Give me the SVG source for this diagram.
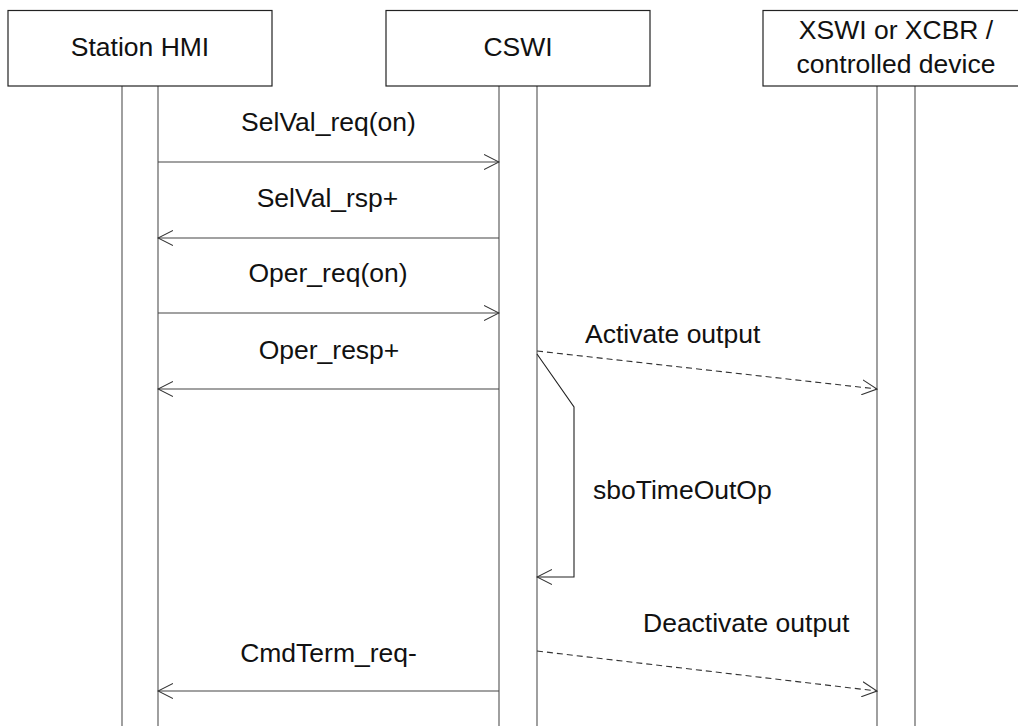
<svg xmlns="http://www.w3.org/2000/svg" width="1018" height="726" viewBox="0 0 1018 726">
<style>
.box{fill:#fff;stroke:#222;stroke-width:1.2}
.life{stroke:#777;stroke-width:1.4;fill:none}
.msg{stroke:#444;stroke-width:1.2;fill:none}
.dash{stroke:#333;stroke-width:1.1;fill:none;stroke-dasharray:6,4}
.self{stroke:#222;stroke-width:1.1;fill:none}
text{font-family:"Liberation Sans",Arial,sans-serif;font-size:26.5px;fill:#111}
.c{text-anchor:middle}
</style>
<defs>
<marker id="open" viewBox="0 0 16 16" refX="15" refY="8" markerWidth="16" markerHeight="16" markerUnits="userSpaceOnUse" orient="auto">
<path d="M0,0.5 L15,8 L0,15.5" fill="none" stroke="#333" stroke-width="1.1"/>
</marker>
</defs>
<rect width="1018" height="726" fill="#fff"/>
<g id="station-hmi">
<line class="life" x1="122" y1="86" x2="122" y2="726"/>
<line class="life" x1="158" y1="86" x2="158" y2="726"/>
<rect class="box" x="8" y="10.5" width="264" height="75.5"/>
<text class="c" x="140" y="56">Station HMI</text>
</g>
<g id="cswi">
<line class="life" x1="499" y1="86" x2="499" y2="726"/>
<line class="life" x1="537" y1="86" x2="537" y2="726"/>
<rect class="box" x="386" y="10.5" width="264" height="75.5"/>
<text class="c" x="518" y="56">CSWI</text>
</g>
<g id="xswi">
<line class="life" x1="877" y1="86" x2="877" y2="726"/>
<line class="life" x1="915" y1="86" x2="915" y2="726"/>
<rect class="box" x="763" y="10.5" width="266" height="75.5"/>
<text class="c" x="896" y="39">XSWI or XCBR /</text>
<text class="c" x="896" y="73">controlled device</text>
</g>
<g id="connectors">
<line class="msg" x1="158" y1="162" x2="499" y2="162" marker-end="url(#open)"/>
<text class="c" x="328.5" y="131">SelVal_req(on)</text>
<line class="msg" x1="499" y1="238" x2="158" y2="238" marker-end="url(#open)"/>
<text class="c" x="327.5" y="207">SelVal_rsp+</text>
<line class="msg" x1="158" y1="313" x2="499" y2="313" marker-end="url(#open)"/>
<text class="c" x="328" y="282">Oper_req(on)</text>
<line class="msg" x1="499" y1="389" x2="158" y2="389" marker-end="url(#open)"/>
<text class="c" x="329" y="359">Oper_resp+</text>
<line class="msg" x1="499" y1="691" x2="158" y2="691" marker-end="url(#open)"/>
<text class="c" x="328.5" y="662">CmdTerm_req-</text>
<line class="dash" x1="537" y1="351" x2="877" y2="389" marker-end="url(#open)"/>
<text x="585" y="343">Activate output</text>
<line class="dash" x1="537" y1="651" x2="877" y2="691" marker-end="url(#open)"/>
<text x="643" y="632">Deactivate output</text>
<polyline class="self" points="537,354 574,407 574,577 537,577" marker-end="url(#open)"/>
<text x="593" y="499">sboTimeOutOp</text>
</g>
</svg>
